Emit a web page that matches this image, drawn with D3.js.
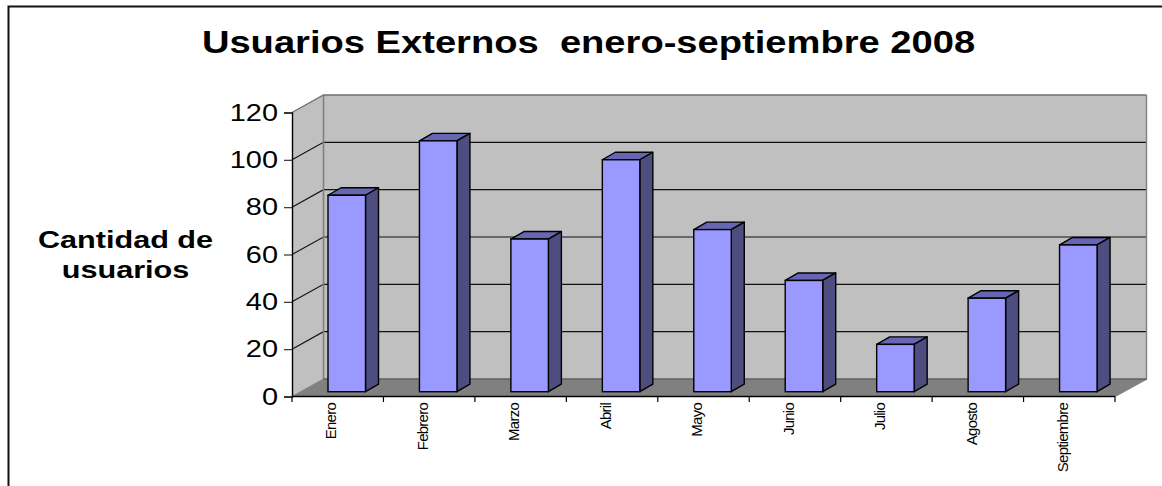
<!DOCTYPE html>
<html><head><meta charset="utf-8">
<script src="https://cdn.jsdelivr.net/npm/d3@7"></script>
<style>html,body{margin:0;background:#fff;overflow:hidden}svg{display:block}text{font-family:"Liberation Sans",Arial,sans-serif;fill:#000}</style>
</head><body><svg id="c" width="1162" height="486"></svg>
<script>
const months=["Enero","Febrero","Marzo","Abril","Mayo","Junio","Julio","Agosto","Septiembre"];
const users=[83,106,64.5,98,68.5,47,20,39.5,62];
const yTicks=[0,20,40,60,80,100,120];
const titleText="Usuarios Externos  enero-septiembre 2008";
const yTitleLines=["Cantidad de","usuarios"];

const svg=d3.select("#c");
const x=d3.scaleBand().domain(months).range([292,1115]).paddingInner(0).paddingOuter(0);
const y=d3.scaleLinear().domain([0,120]).range([396.5,112.5]);
const dx=31.5,dy=-17.5;
const bdx=13,bdy=-7.5,bOffX=36,bOffY=-4.8,bw=37.5;
const hs=1.23;
const poly=p=>p.map(d=>d.join(",")).join(" ");
const x0=x.range()[0],x1=x.range()[1];

svg.append("path").attr("d","M8.5,486V6.5H1162").attr("fill","none").attr("stroke","#111").attr("stroke-width",2);

svg.append("text").attr("transform",`translate(588.5,53) scale(${hs},1)`).attr("text-anchor","middle")
  .attr("font-size",31).attr("font-weight","bold").style("white-space","pre").text(titleText);

// walls and floor
svg.append("polygon").attr("points",poly([[x0,y(0)],[x0+dx,y(0)+dy],[x0+dx,y(120)+dy],[x0,y(120)]])).attr("fill","#c0c0c0");
svg.append("rect").attr("x",x0+dx).attr("y",y(120)+dy).attr("width",x1-x0).attr("height",y(0)-y(120)).attr("fill","#c0c0c0");
svg.append("polygon").attr("points",poly([[x0,y(0)],[x0+dx,y(0)+dy],[x1+dx,y(0)+dy],[x1,y(0)]])).attr("fill","#808080");

// gridlines
svg.append("g").selectAll("path").data(yTicks.slice(1)).join("path")
  .attr("d",d=>`M${x0},${y(d)}L${x0+dx},${y(d)+dy}L${x1+dx},${y(d)+dy}`)
  .attr("fill","none").attr("stroke",d=>d===120?"#707070":"#111").attr("stroke-width",d=>d===120?1.4:1.1);
// wall edges
svg.append("path").attr("d",`M${x0+dx},${y(120)+dy}V${y(0)+dy}`).attr("stroke","#808080").attr("stroke-width",1.6).attr("fill","none");
svg.append("path").attr("d",`M${x1+dx},${y(120)+dy}V${y(0)+dy}L${x1},${y(0)}`).attr("stroke","#808080").attr("stroke-width",1.4).attr("fill","none");
svg.append("path").attr("d",`M${x0+dx},${y(0)+dy}H${x1+dx}`).attr("stroke","#5f5f5f").attr("stroke-width",1.4).attr("fill","none");
svg.append("path").attr("d",`M${x0},${y(0)}L${x0+dx},${y(0)+dy}`).attr("stroke","#808080").attr("fill","none");

// bars
const bars=svg.append("g").selectAll("g").data(months).join("g");
const bl=d=>x(d)+bOffX, by0=y(0)+bOffY, scaleY=v=>y(v)+bOffY;
const sw=1.4;
bars.append("polygon").attr("points",(d,i)=>{const l=bl(d),t=scaleY(users[i]);return poly([[l,t],[l+bdx,t+bdy],[l+bw+bdx,t+bdy],[l+bw,t]]);})
  .attr("fill","#6666b3").attr("stroke","#000").attr("stroke-width",sw).attr("stroke-linejoin","round");
bars.append("polygon").attr("points",(d,i)=>{const l=bl(d)+bw,t=scaleY(users[i]);return poly([[l,t],[l+bdx,t+bdy],[l+bdx,by0+bdy],[l,by0]]);})
  .attr("fill","#4d4d80").attr("stroke","#000").attr("stroke-width",sw).attr("stroke-linejoin","round");
bars.append("rect").attr("x",d=>bl(d)).attr("y",(d,i)=>scaleY(users[i])).attr("width",bw).attr("height",(d,i)=>by0-scaleY(users[i]))
  .attr("fill","#9999ff").attr("stroke","#000").attr("stroke-width",sw);

// axes
const axisY=svg.append("g").attr("transform",`translate(${x0},0)`).call(d3.axisLeft(y).tickValues(yTicks).tickSize(8).tickPadding(2));
axisY.select(".domain").attr("stroke","#000").attr("stroke-width",1.4);
axisY.selectAll("line").attr("stroke","#333").attr("stroke-width",1.2);
axisY.selectAll("text").attr("x",0).attr("transform",`translate(-14,0) scale(${hs},1)`)
  .attr("font-size",23.5).attr("font-family","Liberation Sans").attr("fill","#000");
const xAxis=svg.append("g");
xAxis.append("path").attr("d",`M${x0},${y(0)}H${x1}`).attr("stroke","#000").attr("stroke-width",1.6);
xAxis.selectAll("line").data(d3.range(months.length+1)).join("line")
  .attr("x1",i=>x0+i*x.bandwidth()).attr("x2",i=>x0+i*x.bandwidth()).attr("y1",y(0)).attr("y2",y(0)+5.5).attr("stroke","#000").attr("stroke-width",1.2);
xAxis.selectAll("text").data(months).join("text")
  .attr("transform",d=>`translate(${x(d)+x.bandwidth()/2-6.5},403) rotate(-90)`)
  .attr("text-anchor","end").attr("font-size",15).attr("letter-spacing",-0.75).attr("dy","0.35em").text(d=>d);

svg.append("g").selectAll("text").data(yTitleLines).join("text")
  .attr("transform",(d,i)=>`translate(125.5,${248+i*30}) scale(1.25,1)`).attr("text-anchor","middle").attr("font-size",24.5).attr("font-weight","bold").text(d=>d);
</script></body></html>
